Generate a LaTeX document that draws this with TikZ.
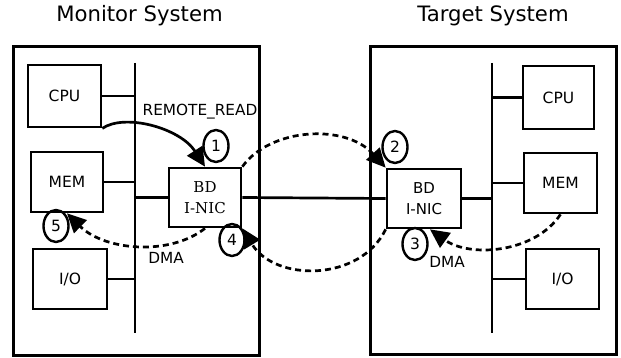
\documentclass[tikz,border=0pt]{standalone}
\usepackage{fontspec}
\setmainfont{DejaVu Sans}
\newfontfamily\serifnic{DejaVu Serif}
\usetikzlibrary{arrows.meta,shapes.geometric}
\tikzset{
  outer/.style={draw, line width=3pt},
  unit/.style={draw, line width=2.7pt, inner sep=0pt, font=\fontsize{15.5}{17}\selectfont},
  wire/.style={line width=2.7pt},
  flow/.style={line width=2.7pt, dash pattern=on 6pt off 4pt},
  solidflow/.style={line width=2.7pt},
  tipbig/.style={-{Triangle[length=19pt,width=18pt]}},
  num/.style={draw, ellipse, line width=2.4pt, minimum width=25pt, minimum height=32pt, inner sep=0pt, font=\fontsize{15.5}{17}\selectfont},
  lbl/.style={font=\fontsize{15.3}{17}\selectfont, inner sep=0pt},
  ttl/.style={font=\fontsize{21.2}{23}\selectfont, inner sep=0pt}
}
\begin{document}
\begin{tikzpicture}[x=1pt,y=-1pt]
\useasboundingbox (0,0) rectangle (621,358);
% titles
\node[ttl] (tL) at (139.5,16) {Monitor System};
\node[ttl] (tR) at (493,16) {Target System};
% outer boxes
\node[outer, minimum width=246pt, minimum height=308pt, inner sep=0pt] (sysL) at (136,201) {};
\node[outer, minimum width=246pt, minimum height=307pt, inner sep=0pt] (sysR) at (493,200.5) {};
% buses
\coordinate (busLt) at (135,63);
\coordinate (busLb) at (135,333);
\coordinate (busRt) at (492,63);
\coordinate (busRb) at (492,333);
\draw[wire] (busLt) -- (busLb);
\draw[wire] (busRt) -- (busRb);
% left units
\node[unit, minimum width=73pt, minimum height=62pt] (cpuL) at (64.5,96) {CPU};
\node[unit, minimum width=72pt, minimum height=60pt] (memL) at (67,182) {MEM};
\node[unit, minimum width=74pt, minimum height=60pt] (ioL) at (70,279) {I/O};
\node[unit, minimum width=72pt, minimum height=59pt, align=center, font=\serifnic\fontsize{15}{21}\selectfont] (nicL) at (205,197.5) {BD\\I-NIC};
% right units
\node[unit, minimum width=71pt, minimum height=63pt] (cpuR) at (558.5,97.5) {CPU};
\node[unit, minimum width=73pt, minimum height=60pt] (memR) at (560.5,183) {MEM};
\node[unit, minimum width=73pt, minimum height=60pt] (ioR) at (562.5,279) {I/O};
\node[unit, minimum width=74pt, minimum height=59pt, align=center, font=\fontsize{15}{21}\selectfont] (nicR) at (424,198.5) {BD\\I-NIC};
% links to buses
\draw[wire] (cpuL.east) -- (cpuL.east -| busLt);
\draw[wire] (memL.east) -- (memL.east -| busLt);
\draw[wire] (ioL.east) -- (ioL.east -| busLt);
\draw[wire] (nicL.west) -- (nicL.west -| busLt);
\draw[wire] (cpuR.west) -- (cpuR.west -| busRt);
\draw[wire] (memR.west) -- (memR.west -| busRt);
\draw[wire] (ioR.west) -- (ioR.west -| busRt);
\draw[wire] (nicR.east) -- (nicR.east -| busRt);
% NIC to NIC
\draw[wire] (nicL.east) -- (nicR.west);
% flows
\draw[solidflow, tipbig] (cpuL.south east) .. controls (125,113) and (180,128) .. (nicL.north);
\draw[flow, tipbig] (nicL.north east) .. controls (270,128) and (345,123) .. (nicR.north west);
\draw[flow, tipbig] (memR.south) .. controls (535,253) and (470,258) .. ([xshift=6pt]nicR.south);
\draw[flow, tipbig] (nicR.south west) .. controls (360,282) and (275,282) .. (nicL.south east);
\draw[flow, tipbig] (nicL.south) .. controls (170,256) and (105,251) .. (memL.south);
% numbers
\node[num] (n1) at (216,146) {1};
\node[num] (n2) at (395,147) {2};
\node[num] (n3) at (415,244) {3};
\node[num] (n4) at (232,240) {4};
\node[num] (n5) at (56,226) {5};
% labels
\node[lbl] (rr) at (200,112) {REMOTE\_READ};
\node[lbl] (dmaL) at (166,258) {DMA};
\node[lbl] (dmaR) at (447,262) {DMA};
\end{tikzpicture}
\end{document}
